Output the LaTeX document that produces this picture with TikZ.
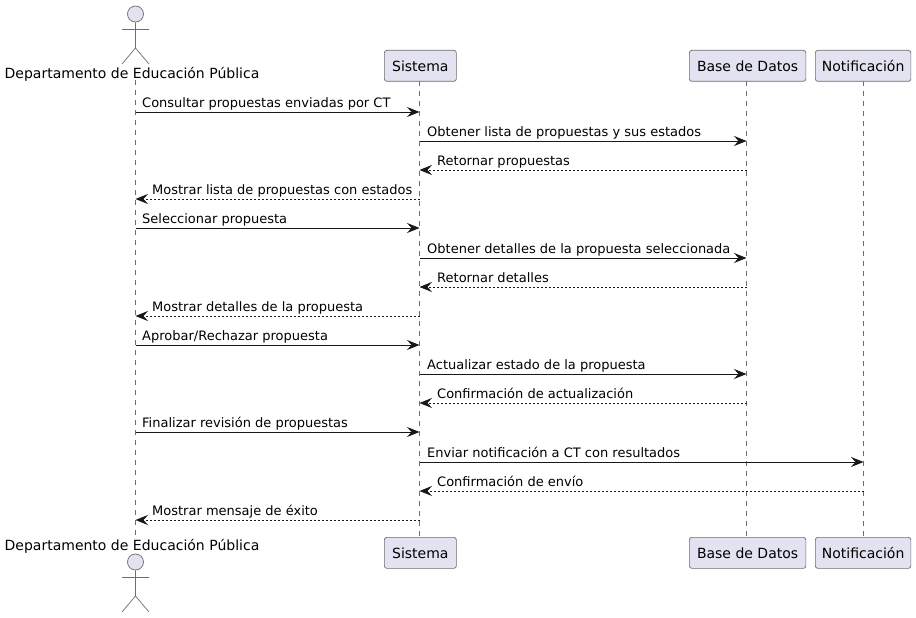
\documentclass[tikz,border=0pt]{standalone}
\usepackage{fontspec}
\setmainfont{DejaVu Sans}
\usetikzlibrary{arrows.meta}
\definecolor{pubg}{HTML}{E2E2F0}
\definecolor{puline}{HTML}{181818}
\definecolor{pugrey}{HTML}{6E6E6E}
\tikzset{
  x=1pt,y=-1pt,
  partbox/.style={draw=pugrey,line width=0.7pt,fill=pubg,rounded corners=2.5pt,inner sep=0pt,anchor=north west,font=\fontsize{14}{16}\selectfont,text=black},
  actorline/.style={draw=pugrey,line width=0.7pt},
  actorhead/.style={circle,draw=pugrey,line width=0.7pt,fill=pubg,minimum size=16pt,inner sep=0pt},
  actorlabel/.style={anchor=base,inner sep=0pt,font=\fontsize{14}{16}\selectfont,text=black},
  lifeline/.style={draw=pugrey,line width=0.7pt,dash pattern=on 5pt off 5pt},
  call/.style={draw=puline,line width=1pt,-{Stealth[length=12.5pt,width=10pt,inset=4.5pt]}},
  reply/.style={call,dash pattern=on 2pt off 2pt},
  msglabel/.style={anchor=base west,inner sep=0pt,font=\fontsize{13}{15}\selectfont,text=black}
}
\newcommand{\boxnode}[6]{\node[partbox,minimum width=#4pt,minimum height=#5pt] (#1) at (#2,#3) {#6};}
\newcommand{\actorfig}[3]{%
  \node[actorhead] (#1head) at (#2,#3) {};
  \coordinate (#1neck) at (#2,#3+8);
  \coordinate (#1hip) at (#2,#3+34);
  \coordinate (#1arml) at (#2-13.5,#3+15.5);
  \coordinate (#1armr) at (#2+13.5,#3+15.5);
  \coordinate (#1legl) at (#2-13.5,#3+50);
  \coordinate (#1legr) at (#2+13.5,#3+50);
  \draw[actorline] (#1head) -- (#1hip) (#1arml) -- (#1armr) (#1legl) -- (#1hip) -- (#1legr);
}
\newcommand{\msg}[6]{%
  \coordinate (m#3a) at (#1 |- 0,#3);
  \coordinate (m#3b) at (#2 |- 0,#3);
  \draw[#4] (m#3a) -- (m#3b);
  \node[msglabel] at (#5,#3-5) {#6};
}
\begin{document}
\begin{tikzpicture}
\useasboundingbox (0,0) rectangle (916,618);
\fill[white] (0,0) rectangle (916,618);
% coordinates of the lifelines
\coordinate (dep) at (135.5,0);
\coordinate (sis) at (419.5,0);
\coordinate (bd) at (746.5,0);
\coordinate (noti) at (863.5,0);
% lifelines
\coordinate (deptop) at (135.5,80);
\coordinate (depbot) at (135.5,536);
\coordinate (sistop) at (419.5,81);
\coordinate (sisbot) at (419.5,537);
\coordinate (bdtop) at (746.5,81);
\coordinate (bdbot) at (746.5,537);
\coordinate (notitop) at (863.5,81);
\coordinate (notibot) at (863.5,537);
\draw[lifeline] (deptop) -- (depbot);
\draw[lifeline] (sistop) -- (sisbot);
\draw[lifeline] (bdtop) -- (bdbot);
\draw[lifeline] (notitop) -- (notibot);
% actors
\actorfig{atop}{135.5}{14}
\actorfig{abot}{135.5}{562}
\node[actorlabel] (deplabeltop) at (132,78) {Departamento de Educación Pública};
\node[actorlabel] (deplabelbot) at (132,550) {Departamento de Educación Pública};
% participants
\boxnode{sistemat}{384}{50}{72}{31}{Sistema}
\boxnode{baset}{689}{50}{116.5}{31}{Base de Datos}
\boxnode{notift}{815}{50}{95.5}{31}{Notificación}
\boxnode{sistemab}{384}{537}{72}{31}{Sistema}
\boxnode{baseb}{689}{537}{116.5}{31}{Base de Datos}
\boxnode{notifb}{815}{537}{95.5}{31}{Notificación}
% messages
\msg{dep}{sis}{112}{call}{142}{Consultar propuestas enviadas por CT}
\msg{sis}{bd}{141}{call}{427}{Obtener lista de propuestas y sus estados}
\msg{bd}{sis}{170}{reply}{437}{Retornar propuestas}
\msg{sis}{dep}{199}{reply}{152}{Mostrar lista de propuestas con estados}
\msg{dep}{sis}{228}{call}{142}{Seleccionar propuesta}
\msg{sis}{bd}{258}{call}{427}{Obtener detalles de la propuesta seleccionada}
\msg{bd}{sis}{287}{reply}{437}{Retornar detalles}
\msg{sis}{dep}{316}{reply}{152}{Mostrar detalles de la propuesta}
\msg{dep}{sis}{345}{call}{142}{Aprobar/Rechazar propuesta}
\msg{sis}{bd}{374}{call}{427}{Actualizar estado de la propuesta}
\msg{bd}{sis}{403}{reply}{437}{Confirmación de actualización}
\msg{dep}{sis}{432}{call}{142}{Finalizar revisión de propuestas}
\msg{sis}{noti}{462}{call}{427}{Enviar notificación a CT con resultados}
\msg{noti}{sis}{491}{reply}{437}{Confirmación de envío}
\msg{sis}{dep}{520}{reply}{152}{Mostrar mensaje de éxito}
\end{tikzpicture}
\end{document}
